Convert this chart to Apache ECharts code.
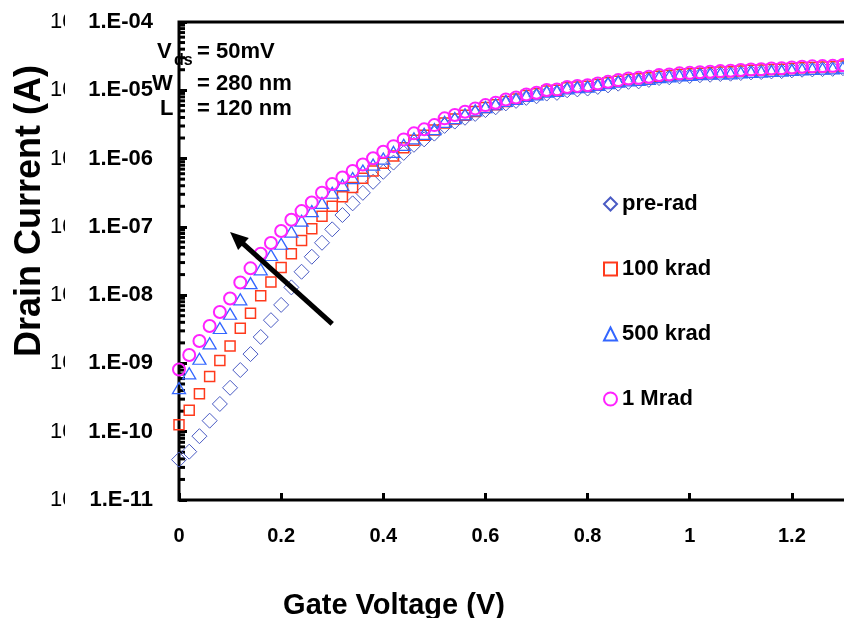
<!DOCTYPE html>
<html>
<head>
<meta charset="utf-8">
<script src="https://cdn.jsdelivr.net/npm/echarts@6/dist/echarts.min.js"></script>
<style>
  html, body { margin: 0; padding: 0; background: #fff; }
  #chart { width: 844px; height: 618px; }
</style>
</head>
<body>
<div id="chart"></div>
<script>
// Gate voltage sweep (V)
const gateVoltage = [
  0.00, 0.02, 0.04, 0.06, 0.08, 0.10, 0.12, 0.14, 0.16, 0.18,
  0.20, 0.22, 0.24, 0.26, 0.28, 0.30, 0.32, 0.34, 0.36, 0.38,
  0.40, 0.42, 0.44, 0.46, 0.48, 0.50, 0.52, 0.54, 0.56, 0.58,
  0.60, 0.62, 0.64, 0.66, 0.68, 0.70, 0.72, 0.74, 0.76, 0.78,
  0.80, 0.82, 0.84, 0.86, 0.88, 0.90, 0.92, 0.94, 0.96, 0.98,
  1.00, 1.02, 1.04, 1.06, 1.08, 1.10, 1.12, 1.14, 1.16, 1.18,
  1.20, 1.22, 1.24, 1.26, 1.28, 1.30
];

// Drain current (A) for each dose
const preRad = [
  3.9e-11, 5.1e-11, 8.6e-11, 1.45e-10, 2.55e-10, 4.4e-10, 8.0e-10, 1.37e-9, 2.44e-9, 4.3e-9,
  7.2e-9, 1.30e-8, 2.20e-8, 3.65e-8, 5.85e-8, 9.2e-8, 1.49e-7, 2.21e-7, 3.15e-7, 4.57e-7,
  6.4e-7, 8.74e-7, 1.21e-6, 1.59e-6, 1.91e-6, 2.32e-6, 3.01e-6, 3.48e-6, 3.96e-6, 4.51e-6,
  5.13e-6, 5.64e-6, 6.43e-6, 7.00e-6, 7.74e-6, 8.17e-6, 8.95e-6, 9.16e-6, 1.00e-5, 1.03e-5,
  1.06e-5, 1.12e-5, 1.18e-5, 1.25e-5, 1.33e-5, 1.35e-5, 1.42e-5, 1.51e-5, 1.55e-5, 1.60e-5,
  1.62e-5, 1.66e-5, 1.69e-5, 1.73e-5, 1.75e-5, 1.79e-5, 1.83e-5, 1.85e-5, 1.89e-5, 1.91e-5,
  1.96e-5, 2.00e-5, 2.02e-5, 2.04e-5, 2.06e-5, 2.11e-5
];
const krad100 = [
  1.27e-10, 2.06e-10, 3.60e-10, 6.43e-10, 1.10e-9, 1.80e-9, 3.27e-9, 5.42e-9, 9.80e-9, 1.56e-8,
  2.55e-8, 4.04e-8, 6.30e-8, 9.35e-8, 1.43e-7, 2.00e-7, 2.76e-7, 3.76e-7, 5.13e-7, 6.56e-7,
  8.51e-7, 1.09e-6, 1.44e-6, 1.85e-6, 2.19e-6, 2.61e-6, 3.33e-6, 3.79e-6, 4.31e-6, 4.91e-6,
  5.58e-6, 6.14e-6, 6.88e-6, 7.48e-6, 8.42e-6, 8.89e-6, 9.73e-6, 9.97e-6, 1.09e-5, 1.12e-5,
  1.15e-5, 1.22e-5, 1.29e-5, 1.36e-5, 1.44e-5, 1.47e-5, 1.52e-5, 1.61e-5, 1.65e-5, 1.71e-5,
  1.74e-5, 1.77e-5, 1.80e-5, 1.85e-5, 1.87e-5, 1.91e-5, 1.96e-5, 1.98e-5, 2.02e-5, 2.04e-5,
  2.09e-5, 2.13e-5, 2.16e-5, 2.19e-5, 2.21e-5, 2.26e-5
];
const krad500 = [
  4.36e-10, 7.16e-10, 1.17e-9, 1.97e-9, 3.30e-9, 5.34e-9, 8.68e-9, 1.50e-8, 2.39e-8, 3.87e-8,
  5.66e-8, 8.54e-8, 1.23e-7, 1.70e-7, 2.24e-7, 3.16e-7, 4.09e-7, 5.18e-7, 6.67e-7, 8.17e-7,
  1.00e-6, 1.25e-6, 1.59e-6, 1.98e-6, 2.30e-6, 2.70e-6, 3.45e-6, 3.92e-6, 4.45e-6, 5.08e-6,
  5.68e-6, 6.24e-6, 7.00e-6, 7.48e-6, 8.28e-6, 8.74e-6, 9.57e-6, 9.80e-6, 1.07e-5, 1.11e-5,
  1.13e-5, 1.20e-5, 1.27e-5, 1.34e-5, 1.40e-5, 1.42e-5, 1.47e-5, 1.56e-5, 1.60e-5, 1.65e-5,
  1.68e-5, 1.72e-5, 1.75e-5, 1.76e-5, 1.77e-5, 1.82e-5, 1.86e-5, 1.88e-5, 1.92e-5, 1.94e-5,
  1.99e-5, 2.03e-5, 2.06e-5, 2.08e-5, 2.10e-5, 2.15e-5
];
const mrad1 = [
  8.15e-10, 1.33e-9, 2.13e-9, 3.53e-9, 5.66e-9, 8.92e-9, 1.53e-8, 2.47e-8, 4.04e-8, 5.79e-8,
  8.68e-8, 1.27e-7, 1.70e-7, 2.28e-7, 3.16e-7, 4.23e-7, 5.27e-7, 6.56e-7, 8.17e-7, 1.01e-6,
  1.26e-6, 1.52e-6, 1.91e-6, 2.34e-6, 2.68e-6, 3.09e-6, 3.88e-6, 4.34e-6, 4.84e-6, 5.43e-6,
  6.07e-6, 6.56e-6, 7.36e-6, 7.87e-6, 8.71e-6, 9.19e-6, 1.01e-5, 1.03e-5, 1.12e-5, 1.16e-5,
  1.19e-5, 1.26e-5, 1.33e-5, 1.41e-5, 1.49e-5, 1.52e-5, 1.58e-5, 1.67e-5, 1.71e-5, 1.77e-5,
  1.80e-5, 1.84e-5, 1.87e-5, 1.91e-5, 1.93e-5, 1.98e-5, 2.02e-5, 2.04e-5, 2.09e-5, 2.11e-5,
  2.16e-5, 2.21e-5, 2.24e-5, 2.26e-5, 2.28e-5, 2.34e-5
];

const seriesNames = ['pre-rad', '100 krad', '500 krad', '1 Mrad'];

// Arrow showing the shift with dose: [Vg tail, Id tail, Vg head, Id head]
const doseArrow = [0.30, 3.8e-9, 0.10, 8.4e-8];

// Device conditions
const conditionLabels = ['V', 'W', 'L'];
const conditionSubs = ['ds', '', ''];
const conditionValues = ['= 50mV', '= 280 nm', '= 120 nm'];

const FONT = '"Liberation Sans", Arial, Helvetica, sans-serif';

// Log minor ticks 2..9 in every decade of the current axis
const minorTickValues = [];
for (let e = -11; e <= -5; e++) {
  for (let k = 2; k <= 9; k++) minorTickValues.push([0, k * Math.pow(10, e)]);
}

function pairs(vals) {
  return gateVoltage.map((v, i) => [v, vals[i]]);
}

function expLabel(v) {
  const e = Math.round(Math.log10(v));
  return '1.E-' + String(-e).padStart(2, '0');
}

const markerStyles = [
  { symbol: 'diamond', size: 15, color: '#4a5bc4', width: 1 },
  { symbol: 'rect', size: 10, color: '#ff3a1c', width: 1.5 },
  { symbol: 'triangle', size: [13, 11], color: '#3366ff', width: 1.3 },
  { symbol: 'circle', size: 12, color: '#ff22ff', width: 2 }
];
const seriesData = [preRad, krad100, krad500, mrad1];

const scatterSeries = seriesNames.map((name, i) => ({
  name: name,
  type: 'scatter',
  xAxisIndex: 0,
  yAxisIndex: 0,
  symbol: markerStyles[i].symbol,
  symbolSize: markerStyles[i].size,
  itemStyle: {
    color: 'rgba(255,255,255,0)',
    borderColor: markerStyles[i].color,
    borderWidth: markerStyles[i].width,
    opacity: 1
  },
  emphasis: { disabled: true },
  data: pairs(seriesData[i]),
  z: 3 + i
}));

const option = {
  animation: false,
  backgroundColor: '#fff',
  textStyle: { fontFamily: FONT },
  grid: {
    left: 179,
    top: 22,
    width: 715,
    height: 478,
    outerBoundsMode: 'none',
    containLabel: false,
    show: true,
    borderColor: '#000',
    borderWidth: 3,
    backgroundColor: 'rgba(0,0,0,0)'
  },
  xAxis: {
    type: 'value',
    min: 0,
    max: 1.4,
    interval: 0.2,
    axisLine: { show: false },
    axisTick: { show: true, inside: true, length: 7, lineStyle: { color: '#000', width: 3 } },
    splitLine: { show: false },
    axisLabel: {
      color: '#000', fontFamily: FONT, fontSize: 20, fontWeight: 'bold', margin: 26
    }
  },
  yAxis: [
    {
      type: 'log',
      logBase: 10,
      min: 1e-11,
      max: 1e-4,
      axisLine: { show: false },
      axisTick: { show: true, inside: true, length: 8, lineStyle: { color: '#000', width: 3 } },
      splitLine: { show: false },
      axisLabel: {
        formatter: expLabel,
        color: '#000', fontFamily: FONT, fontSize: 22, fontWeight: 'bold', margin: 26
      }
    },
    {
      // faint leftover exponent stubs left of the tick labels
      type: 'log',
      logBase: 10,
      min: 1e-11,
      max: 1e-4,
      position: 'left',
      axisLine: { show: false },
      axisTick: { show: false },
      splitLine: { show: false },
      axisLabel: {
        formatter: () => '10',
        align: 'left',
        color: '#000', fontFamily: FONT, fontSize: 22, fontWeight: 'normal', margin: 129
      }
    }
  ],
  legend: {
    orient: 'vertical',
    left: 598,
    top: 187,
    itemWidth: 13,
    itemHeight: 13,
    itemGap: 41,
    selectedMode: false,
    data: seriesNames,
    textStyle: {
      color: '#000', fontFamily: FONT, fontSize: 22, fontWeight: 'bold', lineHeight: 24
    }
  },
  series: [
    {
      type: 'custom',
      name: 'minor ticks',
      coordinateSystem: 'cartesian2d',
      silent: true,
      clip: false,
      encode: { x: 0, y: 1 },
      data: minorTickValues,
      renderItem: function (params, api) {
        const p = api.coord([0, api.value(1)]);
        return {
          type: 'line',
          shape: { x1: p[0], y1: p[1], x2: p[0] + 6, y2: p[1] },
          style: { stroke: '#000', lineWidth: 3 }
        };
      },
      z: 2
    },
    ...scatterSeries,
    {
      type: 'custom',
      name: 'dose arrow',
      coordinateSystem: 'cartesian2d',
      silent: true,
      clip: false,
      encode: { x: [0, 2], y: [1, 3] },
      data: [doseArrow],
      renderItem: function (params, api) {
        const a = api.coord([api.value(0), api.value(1)]);
        const b = api.coord([api.value(2), api.value(3)]);
        const dx = b[0] - a[0], dy = b[1] - a[1];
        const len = Math.sqrt(dx * dx + dy * dy);
        const ux = dx / len, uy = dy / len;
        const headLen = 18, headHalf = 8;
        const bx = b[0] - ux * headLen, by = b[1] - uy * headLen;
        return {
          type: 'group',
          children: [
            {
              type: 'line',
              shape: { x1: a[0], y1: a[1], x2: bx + ux * 2, y2: by + uy * 2 },
              style: { stroke: '#000', lineWidth: 5 }
            },
            {
              type: 'polygon',
              shape: {
                points: [
                  [b[0], b[1]],
                  [bx - uy * headHalf, by + ux * headHalf],
                  [bx + uy * headHalf, by - ux * headHalf]
                ]
              },
              style: { fill: '#000' }
            }
          ]
        };
      },
      z: 10
    }
  ],
  graphic: [
    {
      type: 'rect',
      z: 100,
      shape: { x: 65, y: 0, width: 20, height: 618 },
      style: { fill: '#fff' },
      silent: true
    },
    {
      type: 'text',
      z: 100,
      x: 30,
      y: 211,
      rotation: Math.PI / 2,
      style: {
        text: 'Drain Current (A)',
        fontFamily: FONT, fontSize: 36, fontWeight: 'bold',
        fill: '#000', align: 'center', verticalAlign: 'middle'
      }
    },
    {
      type: 'text',
      z: 100,
      x: 394,
      y: 606,
      style: {
        text: 'Gate Voltage (V)',
        fontFamily: FONT, fontSize: 29, fontWeight: 'bold',
        fill: '#000', align: 'center', verticalAlign: 'middle'
      }
    },
    // device conditions block
    {
      type: 'text', z: 100, x: 157, y: 52,
      style: { text: conditionLabels[0], fontFamily: FONT, fontSize: 22, fontWeight: 'bold', fill: '#000', verticalAlign: 'middle' }
    },
    {
      type: 'text', z: 100, x: 174, y: 61,
      style: { text: conditionSubs[0], fontFamily: FONT, fontSize: 16, fontWeight: 'bold', fill: '#000', verticalAlign: 'middle' }
    },
    {
      type: 'text', z: 100, x: 152, y: 84,
      style: { text: conditionLabels[1], fontFamily: FONT, fontSize: 22, fontWeight: 'bold', fill: '#000', verticalAlign: 'middle' }
    },
    {
      type: 'text', z: 100, x: 160, y: 109,
      style: { text: conditionLabels[2], fontFamily: FONT, fontSize: 22, fontWeight: 'bold', fill: '#000', verticalAlign: 'middle' }
    },
    {
      type: 'text', z: 100, x: 197, y: 52,
      style: { text: conditionValues[0], fontFamily: FONT, fontSize: 22, fontWeight: 'bold', fill: '#000', verticalAlign: 'middle' }
    },
    {
      type: 'text', z: 100, x: 197, y: 84,
      style: { text: conditionValues[1], fontFamily: FONT, fontSize: 22, fontWeight: 'bold', fill: '#000', verticalAlign: 'middle' }
    },
    {
      type: 'text', z: 100, x: 197, y: 109,
      style: { text: conditionValues[2], fontFamily: FONT, fontSize: 22, fontWeight: 'bold', fill: '#000', verticalAlign: 'middle' }
    }
  ]
};

const chart = echarts.init(document.getElementById('chart'), null, { renderer: 'canvas' });
chart.setOption(option);
</script>
</body>
</html>
